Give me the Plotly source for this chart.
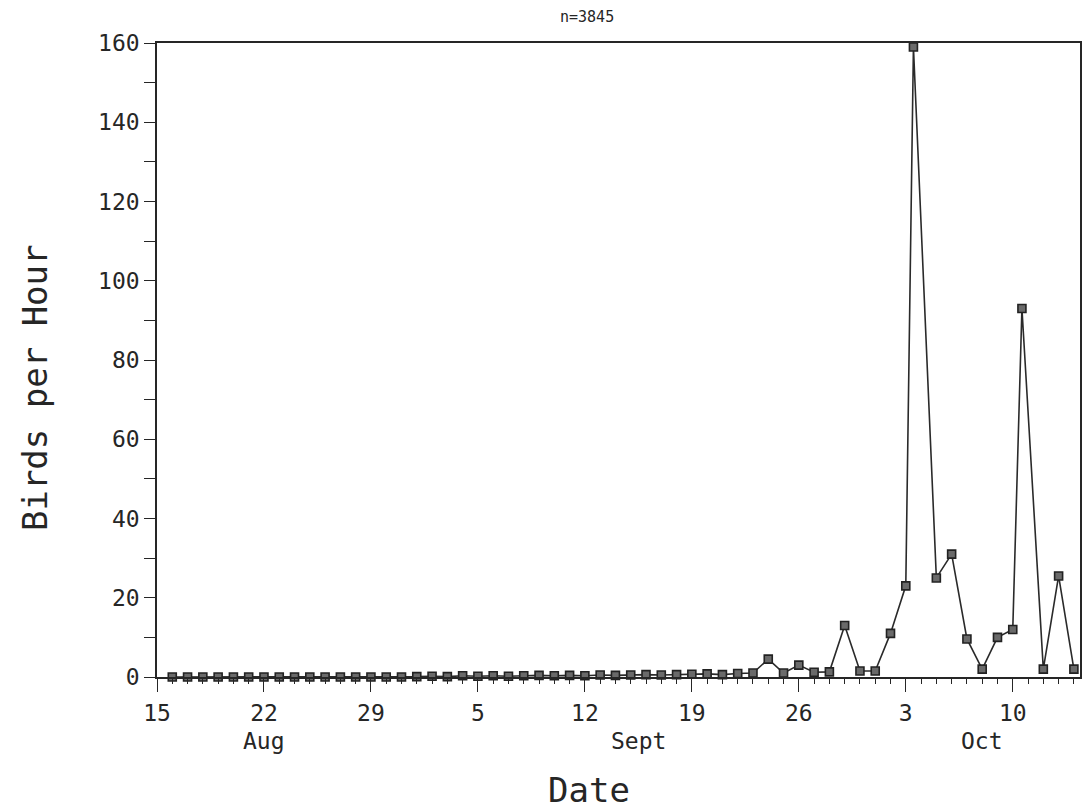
import plotly.graph_objects as go

# Day number counted from 15 Aug (0 = Aug 15)
days = list(range(1, 49)) + [49, 49.5, 51, 52, 53, 54, 55, 56, 56.6, 58, 59, 60]
birds_per_hour = (
    [0] * 16
    + [0.1, 0.2, 0.1, 0.3, 0.2, 0.3, 0.2, 0.3, 0.4, 0.3, 0.4, 0.3, 0.5, 0.4, 0.5,
       0.6, 0.5, 0.6, 0.7, 0.8, 0.6, 0.9]
    + [1.0, 4.5, 1.0, 3.0, 1.2, 1.3, 13, 1.5, 1.5, 11]
    + [23, 159, 25, 31, 9.6, 2, 10, 12, 93, 2, 25.5, 2]
)

x_tick_vals = [0, 7, 14, 21, 28, 35, 42, 49, 56]
x_tick_text = ["15", "22", "29", "5", "12", "19", "26", "3", "10"]
month_labels = ["Aug", "Sept", "Oct"]
month_pos = [7, 31.5, 54]
y_tick_vals = list(range(0, 161, 10))
y_tick_text = [str(v) if v % 20 == 0 else "" for v in y_tick_vals]

FONT = "DejaVu Sans Mono"
INK = "#262626"

fig = go.Figure()
fig.add_trace(go.Scatter(
    x=days, y=birds_per_hour, mode="lines+markers",
    line=dict(color="#2a2a2a", width=1.6),
    marker=dict(symbol="square", size=8, color="#6a6a6a",
                line=dict(color="#222222", width=1.6)),
    cliponaxis=False, showlegend=False,
))

fig.update_layout(
    width=1086, height=809,
    margin=dict(l=157, r=4, t=43, b=132),
    paper_bgcolor="white", plot_bgcolor="white",
    font=dict(family=FONT, color=INK, size=23),
)
fig.update_xaxes(
    range=[0, 60.4], showgrid=False, zeroline=False,
    showline=True, linecolor=INK, linewidth=1.6, mirror=True,
    tickmode="array", tickvals=x_tick_vals, ticktext=x_tick_text,
    ticks="outside", ticklen=13, tickwidth=1.4, tickcolor=INK,
    ticklabelstandoff=2,
    tickfont=dict(family=FONT, size=23, color=INK),
    minor=dict(dtick=1, tick0=0, ticks="outside", ticklen=5,
               tickwidth=1.2, tickcolor=INK, showgrid=False),
)
fig.update_yaxes(
    range=[0, 160], showgrid=False, zeroline=False,
    showline=True, linecolor=INK, linewidth=1.6, mirror=True,
    tickmode="array", tickvals=y_tick_vals, ticktext=y_tick_text,
    ticks="outside", ticklen=11, tickwidth=1.4, tickcolor=INK,
    tickfont=dict(family=FONT, size=23, color=INK),
)

for lab, pos in zip(month_labels, month_pos):
    fig.add_annotation(x=pos, xref="x", y=-0.101, yref="paper", text=lab,
                       showarrow=False, xanchor="center", yanchor="middle",
                       font=dict(family=FONT, size=23, color=INK))

fig.add_annotation(x=0.468, y=-0.178, xref="paper", yref="paper", text="Date",
                   showarrow=False, xanchor="center", yanchor="middle",
                   font=dict(family=FONT, size=34, color=INK))
fig.add_annotation(x=-0.132, y=0.456, xref="paper", yref="paper",
                   text="Birds per Hour", textangle=-90,
                   showarrow=False, xanchor="center", yanchor="middle",
                   font=dict(family=FONT, size=34, color=INK))
fig.add_annotation(x=0.466, y=1.041, xref="paper", yref="paper", text="n=3845",
                   showarrow=False, xanchor="center", yanchor="middle",
                   font=dict(family=FONT, size=15, color=INK))

fig.write_html("out.html")
